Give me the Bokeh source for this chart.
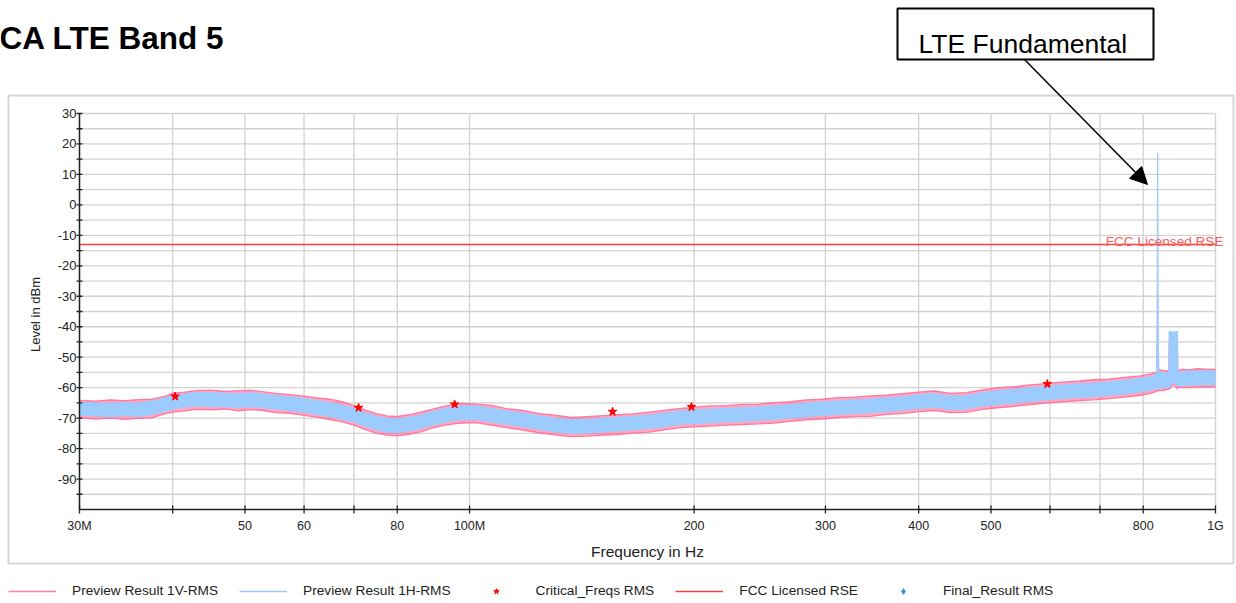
import math
from bokeh.plotting import figure
from bokeh.models import (Label, BoxAnnotation, Arrow, NormalHead, Legend, LegendItem,
                          Range1d)
from bokeh.core.properties import value
from bokeh.embed import file_html
from bokeh.resources import INLINE

# ---------------- data ----------------
freq_mhz = [30, 31.5, 33, 34.5, 36, 37.5, 39, 40, 41.5, 43, 45, 47, 49, 51, 53, 55,
            57.5, 60, 62.5, 65, 67.5, 70, 72.5, 75, 77.5, 80, 83, 86, 89, 92, 95, 98,
            102, 107, 112, 118, 124, 130, 137, 144, 151, 158, 166, 174, 183, 192, 200,
            210, 221, 232, 244, 256, 269, 283, 297, 312, 328, 345, 362, 380, 400, 420,
            441, 463, 487, 511, 537, 564, 592, 622, 653, 686, 720, 756, 794, 820, 834,
            835.5, 836.5, 837.5, 839, 850, 862, 866, 867, 878, 888, 889, 890, 900, 920,
            945, 970, 1000]

# Preview Result 1H-RMS (blue) - lower / upper envelope in dBm
h_lo = [-69.0, -69.2, -69.5, -69.1, -69.4, -68.8, -67.8, -67.0, -66.4, -66.0, -66.1, -66.2,
        -66.5, -66.2, -66.6, -67.0, -67.5, -68.0, -68.8, -69.4, -70.3, -71.2, -72.7, -73.8,
        -74.5, -74.7, -74.2, -73.4, -72.4, -71.4, -70.8, -70.4, -70.5, -71.2, -72.0, -72.8,
        -73.7, -74.4, -75.0, -74.8, -74.5, -74.2, -73.8, -73.4, -72.7, -72.0, -71.7, -71.5,
        -71.2, -71.0, -70.7, -70.4, -70.0, -69.5, -69.1, -68.8, -68.4, -68.2, -67.8, -67.4,
        -66.8, -66.4, -67.2, -67.0, -66.0, -65.5, -65.0, -64.5, -64.0, -63.6, -63.2, -62.9,
        -62.5, -62.0, -61.4, -60.7, -60.2, -60.0, -60.0, -60.0, -60.2, -60.0, -59.8, -59.6,
        -60.0, -58.0, -59.0, -59.5, -59.2, -59.3, -59.2, -59.1, -59.0, -59.0]
h_hi = [-64.8, -65.0, -65.2, -64.9, -65.1, -64.4, -63.4, -62.6, -62.1, -61.7, -61.6, -61.9,
        -62.0, -61.7, -62.1, -62.6, -63.0, -63.6, -64.3, -65.0, -65.8, -66.8, -68.3, -69.4,
        -70.1, -70.3, -69.8, -69.0, -68.0, -67.0, -66.4, -66.0, -66.1, -66.8, -67.6, -68.4,
        -69.3, -70.0, -70.6, -70.4, -70.1, -69.8, -69.4, -69.0, -68.3, -67.6, -67.3, -67.1,
        -66.8, -66.6, -66.3, -66.0, -65.6, -65.1, -64.7, -64.4, -64.0, -63.8, -63.4, -63.0,
        -62.4, -62.0, -62.8, -62.6, -61.6, -61.1, -60.6, -60.1, -59.6, -59.2, -58.8, -58.5,
        -58.1, -57.6, -57.0, -56.3, -55.8, -40.0, 17.0, -38.0, -54.8, -55.0, -55.2, -55.0,
        -41.5, -41.8, -41.6, -41.5, -55.0, -54.8, -54.7, -54.6, -54.5, -54.6]

# Preview Result 1V-RMS (pink) - lower / upper envelope in dBm
v_lo = [-69.8, -70.3, -70.0, -70.4, -70.1, -69.9, -68.6, -68.0, -67.6, -67.1, -67.3, -67.0,
        -67.6, -67.2, -67.5, -68.2, -68.4, -69.1, -69.7, -70.5, -71.2, -72.3, -73.8, -74.9,
        -75.6, -75.8, -75.3, -74.5, -73.3, -72.5, -71.9, -71.6, -71.5, -72.3, -73.1, -73.9,
        -74.8, -75.5, -76.1, -75.9, -75.6, -75.4, -74.9, -74.6, -73.8, -73.1, -72.9, -72.6,
        -72.3, -72.1, -71.9, -71.6, -71.1, -70.6, -70.3, -69.8, -69.5, -69.4, -68.8, -68.5,
        -67.9, -67.5, -68.2, -68.1, -67.1, -66.6, -66.1, -65.6, -65.1, -64.7, -64.3, -64.0,
        -63.6, -63.1, -62.5, -61.8, -61.2, -61.0, -61.0, -61.0, -61.0, -61.0, -60.6, -60.4,
        -60.5, -59.0, -60.2, -60.4, -59.8, -60.0, -60.0, -59.8, -59.7, -59.8]
v_hi = [-64.2, -64.4, -64.0, -64.3, -63.9, -63.8, -62.9, -61.8, -61.5, -61.0, -60.8, -61.2,
        -61.0, -60.9, -61.4, -61.9, -62.3, -62.8, -63.4, -63.8, -64.6, -65.9, -67.4, -68.5,
        -69.3, -69.4, -68.9, -68.0, -67.1, -66.2, -65.6, -65.2, -65.4, -65.8, -66.9, -67.5,
        -68.5, -69.0, -69.8, -69.5, -69.2, -68.9, -68.6, -68.0, -67.4, -66.8, -66.4, -66.0,
        -65.9, -65.5, -65.4, -64.9, -64.6, -64.0, -63.8, -63.3, -63.1, -62.7, -62.5, -62.0,
        -61.5, -61.1, -61.9, -61.6, -60.7, -60.0, -59.7, -59.1, -58.7, -58.2, -57.9, -57.4,
        -57.2, -56.6, -56.1, -55.4, -55.0, -45.0, -31.0, -45.0, -54.0, -54.3, -54.5, -54.6,
        -45.5, -45.8, -45.4, -46.0, -54.6, -54.0, -54.2, -53.8, -53.9, -54.0]

# Critical_Freqs RMS
crit_freq_mhz = [40.3, 71.0, 95.5, 155.5, 198.4, 595.0]
crit_level = [-62.9, -66.6, -65.5, -67.9, -66.3, -58.8]

# Final_Result RMS (no final result visible in the chart)
final_freq_mhz = [float("nan")]
final_level = [float("nan")]

# FCC Licensed RSE limit
fcc_freq_mhz = [30, 1000]
fcc_level = [-13, -13]

# axis ticks
x_ticks_mhz = [30, 40, 50, 60, 70, 80, 100, 200, 300, 400, 500, 600, 700, 800, 1000]
x_tick_labels = ["30M", "", "50", "60", "", "80", "100M", "200", "300", "400", "500",
                 "", "", "800", "1G"]
y_ticks = [-90, -80, -70, -60, -50, -40, -30, -20, -10, 0, 10, 20, 30]
y_minor_ticks = [-95, -85, -75, -65, -55, -45, -35, -25, -15, -5, 5, 15, 25]

# ---------------- layout geometry (pixels) ----------------
W, H = 1236, 603
PX_L, PX_R, PY_T, PY_B = 79, 1215, 113, 509      # plot area inside the canvas
F_MIN, F_MAX = 30e6, 1e9
L_MIN, L_MAX = -100, 30

dpp = (math.log10(F_MAX) - math.log10(F_MIN)) / (PX_R - PX_L)
lpp = (L_MAX - L_MIN) / (PY_B - PY_T)
x_range = Range1d(10 ** (math.log10(F_MIN) - PX_L * dpp), 10 ** (math.log10(F_MAX) + (W - PX_R) * dpp))
y_range = Range1d(L_MIN - (H - PY_B) * lpp, L_MAX + PY_T * lpp)

FONT = "Liberation Sans"
TXT = "#222222"
GRID = "#D2D2D2"
PINK = "#FF5C8D"
PINK_LINE = "#FF6F9A"
BLUE = "#9CCBFF"

p = figure(width=W, height=H, x_axis_type="log", x_range=x_range, y_range=y_range,
           x_axis_location=None, y_axis_location=None, title=None,
           output_backend="svg", toolbar_location=None, min_border=0)
p.outline_line_color = None
p.background_fill_color = "white"
p.border_fill_color = "white"
p.xgrid.visible = False
p.ygrid.visible = False

hz = lambda arr: [f * 1e6 for f in arr]
xt = hz(x_ticks_mhz)
fx = hz(freq_mhz)
y_all = y_ticks + y_minor_ticks

# grid lines
p.segment(x0=xt, y0=[L_MIN] * len(xt), x1=xt, y1=[L_MAX] * len(xt),
          line_color=GRID, line_width=1.3)
p.segment(x0=[F_MIN] * len(y_all), y0=y_all, x1=[F_MAX] * len(y_all), y1=y_all,
          line_color=GRID, line_width=1.3)

# pink trace (1V)
p.varea(x=fx, y1=v_lo, y2=v_hi, fill_color=PINK, fill_alpha=0.55)
r_v = p.line(x=fx, y=v_hi, line_color=PINK_LINE, line_width=1.3, line_alpha=0.9)
p.line(x=fx, y=v_lo, line_color=PINK_LINE, line_width=1.3, line_alpha=0.9)

# blue trace (1H)
p.varea(x=fx, y1=h_lo, y2=h_hi, fill_color=BLUE)
r_h = p.line(x=fx, y=h_hi, line_color=BLUE, line_width=1.3)
p.line(x=fx, y=h_lo, line_color=BLUE, line_width=1.3)

# FCC limit
r_fcc = p.line(x=hz(fcc_freq_mhz), y=fcc_level, line_color="#FF4040", line_width=1.5)

# critical freqs / final results
r_crit = p.scatter(x=hz(crit_freq_mhz), y=crit_level, marker="star", size=9,
                   fill_color="#FF0000", line_color="#FF0000")
r_final = p.scatter(x=hz(final_freq_mhz), y=final_level, marker="diamond", size=11,
                    fill_color="#3C8FE0", line_color="#3C8FE0")

p.add_layout(Label(x=F_MAX, y=-13, x_offset=8, y_offset=3, text="FCC Licensed RSE",
                   text_align="right", text_baseline="alphabetic",
                   text_color="#FF5A5A", text_font=FONT, text_font_size="13.6px"))

# axes (lines, ticks, labels)
p.segment(x0=[F_MIN, F_MIN], y0=[L_MIN, L_MIN], x1=[F_MAX, F_MIN], y1=[L_MIN, L_MAX],
          line_color=TXT, line_width=1.5)
p.scatter(x=xt, y=[L_MIN] * len(xt), marker="dash", angle=math.pi / 2, size=8,
          line_color=TXT, line_width=1.3)
p.scatter(x=[F_MIN] * len(y_all), y=y_all, marker="dash", size=6,
          line_color=TXT, line_width=1.3)
p.text(x=xt, y=[L_MIN] * len(xt), text=x_tick_labels, y_offset=16,
       text_align="center", text_baseline="middle", text_color=TXT,
       text_font=value(FONT), text_font_size=value("12.5px"))
p.text(x=[F_MIN] * len(y_ticks), y=y_ticks, text=[str(v) for v in y_ticks], x_offset=-3,
       text_align="right", text_baseline="middle", text_color=TXT,
       text_font=value(FONT), text_font_size=value("13px"))

p.add_layout(Label(x=647, y=551, x_units="canvas", y_units="canvas", text="Frequency in Hz",
                   text_align="center", text_baseline="middle", text_color=TXT,
                   text_font=FONT, text_font_size="15.5px"))
p.add_layout(Label(x=35, y=314, x_units="canvas", y_units="canvas", text="Level in dBm",
                   angle=math.pi / 2, text_align="center", text_baseline="middle",
                   text_color=TXT, text_font=FONT, text_font_size="13px"))

# outer light border around the chart area
p.add_layout(BoxAnnotation(left=8, right=1233, top=95, bottom=563,
                           left_units="canvas", right_units="canvas",
                           top_units="canvas", bottom_units="canvas",
                           fill_alpha=0, line_color="#D6D6D6", line_alpha=1,
                           line_width=2, level="underlay"))

# title
p.add_layout(Label(x=-1, y=37, x_units="canvas", y_units="canvas", text="CA LTE Band 5",
                   text_font=FONT, text_font_style="bold", text_font_size="31.5px",
                   text_color="black", text_baseline="alphabetic"))

# annotation box + arrow
p.add_layout(BoxAnnotation(left=897, right=1153, top=8, bottom=59,
                           left_units="canvas", right_units="canvas",
                           top_units="canvas", bottom_units="canvas",
                           fill_color="white", fill_alpha=1, line_color="black",
                           line_alpha=1, line_width=2))
p.add_layout(Label(x=918, y=43, x_units="canvas", y_units="canvas", text="LTE Fundamental",
                   text_font=FONT, text_font_size="26.5px", text_color="black",
                   text_baseline="alphabetic"))
p.add_layout(Arrow(x_start=1024, y_start=59, x_end=1147, y_end=184,
                   start_units="canvas", end_units="canvas",
                   line_color="black", line_width=1.5,
                   end=NormalHead(size=17, fill_color="black", line_color="black")))

# legend
legend = Legend(items=[
    LegendItem(label="Preview Result 1V-RMS", renderers=[r_v]),
    LegendItem(label="Preview Result 1H-RMS", renderers=[r_h]),
    LegendItem(label="Critical_Freqs RMS", renderers=[r_crit]),
    LegendItem(label="FCC Licensed RSE", renderers=[r_fcc]),
    LegendItem(label="Final_Result RMS", renderers=[r_final]),
], orientation="horizontal", location=(8, 5),
    glyph_width=48, glyph_height=14, label_height=14, label_standoff=16,
    spacing=21, padding=0, margin=0, border_line_color=None,
    background_fill_alpha=0, label_text_font=FONT, label_text_font_size="13.7px",
    label_text_color=TXT)
p.add_layout(legend)

open("out.html", "w").write(file_html(p, INLINE))
